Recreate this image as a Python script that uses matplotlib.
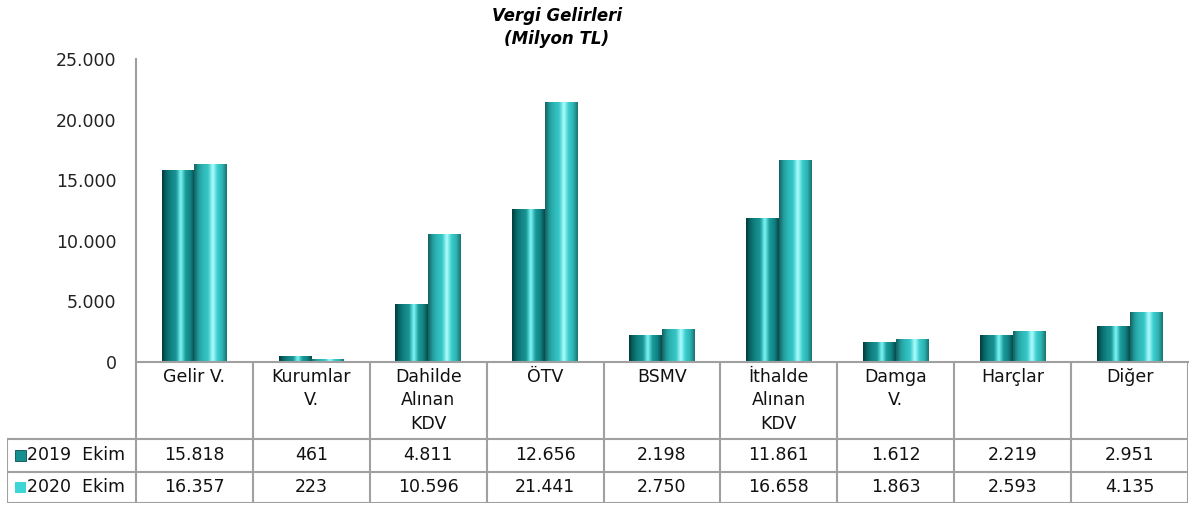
import numpy as np
import matplotlib
matplotlib.use("Agg")
import matplotlib.pyplot as plt
from matplotlib.colors import LinearSegmentedColormap
from matplotlib.patches import Rectangle

categories = ["Gelir V.", "Kurumlar\nV.", "Dahilde\nAlınan\nKDV", "ÖTV", "BSMV",
              "İthalde\nAlınan\nKDV", "Damga\nV.", "Harçlar", "Diğer"]
series_names = ["2019  Ekim", "2020  Ekim"]
ekim_2019 = [15818, 461, 4811, 12656, 2198, 11861, 1612, 2219, 2951]
ekim_2020 = [16357, 223, 10596, 21441, 2750, 16658, 1863, 2593, 4135]
yticks = [0, 5000, 10000, 15000, 20000, 25000]

legend_colors = ["#168f8f", "#3dd6d6"]
gradients = [
    ["#033a3a", "#0a6a6a", "#138585", "#189494", "#7ff8f8", "#1a9a9a", "#128484", "#064a4a"],
    ["#155f5f", "#239e9e", "#2fb8b8", "#36c6c6", "#b0ffff", "#3acccc", "#2eb4b4", "#187070"],
]
grid_color = "#a0a0a0"
font = "DejaVu Sans"
fs = 12.5


def fmt(v):
    return f"{v:,}".replace(",", ".")


W, H = 1190, 508
fig = plt.figure(figsize=(W / 100, H / 100), dpi=100)

left, right, top, bottom = 136, 1188, 59, 362
ax = fig.add_axes([left / W, 1 - bottom / H, (right - left) / W, (bottom - top) / H])

n = len(categories)
x = np.arange(n) + 0.5
bw = 0.28
grad = np.linspace(0, 1, 256).reshape(1, -1)
for k, vals in enumerate([ekim_2019, ekim_2020]):
    cmap = LinearSegmentedColormap.from_list(f"g{k}", gradients[k])
    bars = ax.bar(x + (k - 0.5) * bw, vals, width=bw, color="none", edgecolor="none")
    for b in bars:
        x0, w, h = b.get_x(), b.get_width(), b.get_height()
        im = ax.imshow(grad, cmap=cmap, extent=[x0, x0 + w, 0, h],
                       aspect="auto", zorder=2, interpolation="bicubic")
        im.set_clip_path(b)

ax.set_xlim(0, n)
ax.set_ylim(0, 25000)
ax.set_yticks(yticks)
ax.set_yticklabels([fmt(v) for v in yticks], fontsize=fs, family=font, color="#222222")
ax.tick_params(axis="y", length=0, pad=14)
ax.set_xticks([])
for s in ["top", "right"]:
    ax.spines[s].set_visible(False)
for s in ["left", "bottom"]:
    ax.spines[s].set_color(grid_color)
    ax.spines[s].set_linewidth(1.5)

ax.set_title("Vergi Gelirleri\n(Milyon TL)", fontsize=12, fontweight="bold",
             fontstyle="italic", family=font, pad=11, x=0.4, linespacing=1.35)

# data table below the plot
tleft, tbottom = 7, 503
leg_w = (left - tleft) / ((right - left) / n)
tax = fig.add_axes([tleft / W, 1 - tbottom / H, (right - tleft) / W, (tbottom - bottom) / H])
tax.set_xlim(-leg_w, n)
rows = [0, 77, 110, 141]
tax.set_ylim(rows[-1], 0)
tax.axis("off")

lk = dict(color=grid_color, lw=1.5, solid_capstyle="projecting")
for i in range(n + 1):
    tax.plot([i, i], [0, rows[-1]], **lk)
for r in rows[1:]:
    tax.plot([-leg_w, n], [r, r], **lk)
tax.plot([-leg_w, -leg_w], [rows[1], rows[-1]], **lk)

for i, c in enumerate(categories):
    tax.text(i + 0.5, 6, c, ha="center", va="top", fontsize=fs, family=font,
             linespacing=1.38, color="#111111")
for r, vals in enumerate([ekim_2019, ekim_2020]):
    yc = (rows[r + 1] + rows[r + 2]) / 2
    for i, v in enumerate(vals):
        tax.text(i + 0.5, yc, fmt(v), ha="center", va="center", fontsize=fs,
                 family=font, color="#111111")
    sq = 0.095
    tax.add_patch(Rectangle((-leg_w + 0.065, yc - 5.5), sq, 11, facecolor=legend_colors[r],
                            edgecolor="#0a5050" if r == 0 else "none", lw=0.6))
    tax.text(-leg_w + 0.065 + sq + 0.015, yc, series_names[r], ha="left", va="center",
             fontsize=fs, family=font, color="#111111")

fig.savefig("out.png", dpi=100)
